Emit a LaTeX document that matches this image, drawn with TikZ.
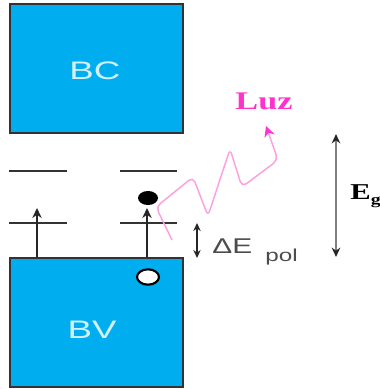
\documentclass[tikz,border=0pt]{standalone}
\usepackage{fontspec}
\setmainfont{Liberation Serif}
\setsansfont{Liberation Sans}
\usetikzlibrary{arrows.meta, positioning, shapes.geometric}
\definecolor{bandblue}{HTML}{00AEEF}
\definecolor{bandtext}{HTML}{D2F0FB}
\definecolor{luzpink}{HTML}{FF33CC}
\definecolor{wavepink}{HTML}{FFA0DE}

\begin{document}
\begin{tikzpicture}[x=0.75pt, y=-0.75pt,
  band/.style={draw=black!80, line width=1.6pt, fill=bandblue, minimum width=129.75pt, minimum height=96.75pt, inner sep=0pt},
  bandlbl/.style={text=bandtext, font=\sffamily\fontsize{19}{19}\selectfont, xscale=1.45, inner sep=0pt},
  level/.style={draw=black!80, line width=1.3pt},
  jump/.style={-{Stealth[length=7.5pt,width=7pt]}, line width=1.6pt, draw=black!85},
  gap/.style={{Stealth[length=7pt,width=6.5pt,color=black!85]}-{Stealth[length=7pt,width=6.5pt,color=black!85]}, line width=1pt, draw=gray},
  wave/.style={draw=wavepink, line width=1.1pt, rounded corners=4pt, -{Stealth[length=8pt,width=8pt,color=luzpink]}}]

\useasboundingbox (0,0) rectangle (379,389);

% Define bands
\node[band] (BC) at (96.5,68.5) {};
\node[band] (BV) at (96.5,322.5) {};
\node[bandlbl] (BCtxt) at (95,71) {BC};
\node[bandlbl] (BVtxt) at (92,330) {BV};

% Impurity levels
\draw[level] (9,171) -- (67,171);
\draw[level] (120,171) -- (177,171);
\draw[level] (9,223) -- (67,223);
\draw[level] (120,223) -- (177,223);

% Transitions from the valence band
\coordinate (tipA) at (37,208);
\coordinate (tipB) at (147,208);
\draw[jump] (BV.north -| tipA) -- (tipA);
\draw[jump] (BV.north -| tipB) -- (tipB);

% Electron and hole
\node[ellipse, fill=black, minimum width=15pt, minimum height=10.5pt, inner sep=0pt] (e) at (148,198) {};
\node[ellipse, draw=black, fill=white, line width=1.6pt, minimum width=16.5pt, minimum height=11.5pt, inner sep=0pt] (h) at (148,277) {};

% Emitted light
\coordinate (wstart) at (172,240);
\coordinate (wend) at (266,126);
\draw[wave] (wstart) -- (156,207) -- (193,177) -- (208,216) -- (230,149) -- (242,187) -- (278,160) -- (wend);
\node[text=luzpink, font=\bfseries\fontsize{19}{19}\selectfont, xscale=1.35] (luz) at (264,101) {Luz};

% Polarisation shift
\coordinate (dpT) at (197,223);
\coordinate (dpB) at (197,258);
\draw[{Stealth[length=6pt,width=5.5pt]}-{Stealth[length=6pt,width=5.5pt]}, line width=1.4pt, black!85] (dpT) -- (dpB);
\node[anchor=base west, inner sep=0pt, text=black!70, font=\sffamily\fontsize{16}{16}\selectfont, xscale=1.4] (dE) at (212,253) {ΔE};
\node[anchor=base west, inner sep=0pt, text=black!70, font=\sffamily\fontsize{13}{13}\selectfont, xscale=1.4] (pol) at (265,261) {pol};

% Band gap
\coordinate (egx) at (336,0);
\draw[gap] (BC.south -| egx) -- (BV.north -| egx);
\node[anchor=base west, inner sep=0pt, font=\bfseries\fontsize{17}{17}\selectfont, xscale=1.35] (Eg) at (350,199) {E\raisebox{-4pt}{\fontsize{11}{11}\selectfont g}};

\end{tikzpicture}
\end{document}
